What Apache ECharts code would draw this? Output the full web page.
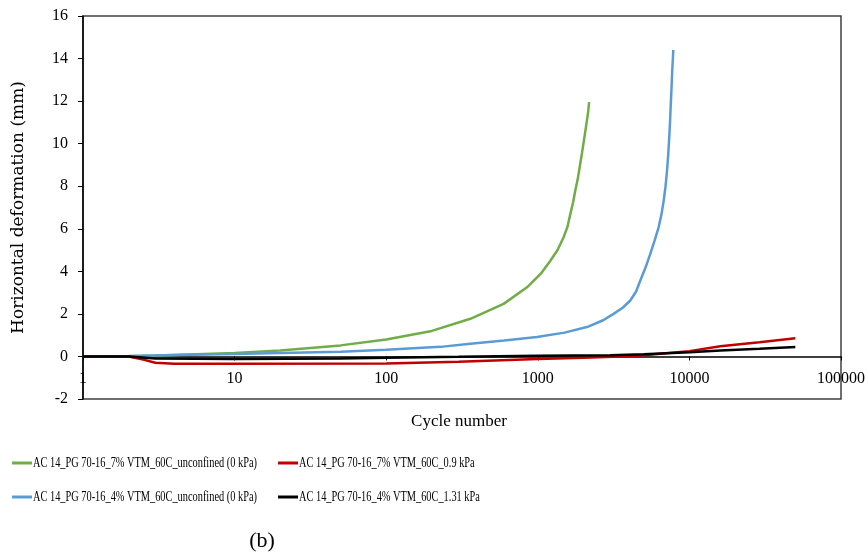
<!DOCTYPE html>
<html>
<head>
<meta charset="utf-8">
<script src="https://cdn.jsdelivr.net/npm/echarts@6/dist/echarts.min.js"></script>
<style>html,body{margin:0;padding:0;background:#fff;}#c{width:868px;height:554px;}</style>
</head>
<body>
<div id="c"></div>
<script>
const seriesNames = [
  'AC 14_PG 70-16_7% VTM_60C_unconfined (0 kPa)',
  'AC 14_PG 70-16_4% VTM_60C_unconfined (0 kPa)',
  'AC 14_PG 70-16_7% VTM_60C_0.9 kPa',
  'AC 14_PG 70-16_4% VTM_60C_1.31 kPa'
];
const seriesColors = ['#70AD47', '#5B9BD5', '#C00000', '#000000'];
const yTicks = [-2, 0, 2, 4, 6, 8, 10, 12, 14, 16];
const xTickLabels = ['1', '10', '100', '1000', '10000', '100000'];

// [cycle number, horizontal deformation (mm)]
const green7Unconf = [[1,0],[1.5,0],[2,0.01],[3,0.04],[5,0.09],[10,0.16],[20,0.28],[50,0.52],[100,0.8],[200,1.2],[359,1.77],[595,2.47],[849,3.25],[1050,3.9],[1210,4.5],[1350,5.0],[1480,5.6],[1570,6.1],[1640,6.7],[1710,7.25],[1767,7.8],[1830,8.3],[1890,8.9],[1960,9.6],[2030,10.3],[2100,11.0],[2150,11.5],[2180,11.95]];
const blue4Unconf = [[1,0],[2,0.02],[3,0.05],[5,0.08],[10,0.12],[20,0.16],[50,0.22],[100,0.31],[228,0.45],[359,0.6],[600,0.75],[988,0.91],[1500,1.12],[2110,1.38],[2700,1.7],[3160,2.0],[3650,2.3],[4075,2.63],[4450,3.05],[4745,3.57],[5150,4.2],[5520,4.82],[5900,5.45],[6265,6.07],[6550,6.7],[6760,7.3],[6960,8.0],[7120,8.73],[7250,9.5],[7350,10.2],[7450,11.0],[7530,11.8],[7620,12.6],[7700,13.4],[7780,14.0],[7830,14.4]];
const red7Conf = [[1,0],[2,0],[2.5,-0.15],[3,-0.3],[4,-0.34],[10,-0.34],[100,-0.33],[300,-0.25],[1000,-0.12],[2000,-0.06],[3500,0],[5000,0.06],[7000,0.15],[10000,0.25],[16000,0.48],[29000,0.67],[50000,0.86]];
const black4Conf = [[1,0],[2,0],[3,-0.1],[10,-0.12],[50,-0.1],[100,-0.06],[300,-0.02],[1000,0.03],[3000,0.06],[5000,0.1],[10000,0.2],[16000,0.28],[29000,0.36],[50000,0.44]];
const seriesData = [green7Unconf, blue4Unconf, red7Conf, black4Conf];

// legend layout: [series index, column x of line start, row y]
const legendItems = [[0, 12, 463], [2, 278, 463], [1, 12, 497], [3, 278, 497]];

const FONT = 'Liberation Serif';
const legendGraphics = legendItems.map(([si, lx, ly]) => ({
  type: 'group', x: lx, y: ly,
  children: [
    {type: 'rect', shape: {x: 0, y: -1.5, width: 20, height: 3}, style: {fill: seriesColors[si]}},
    {type: 'text', x: 21, y: 0, scaleX: 0.69, style: {text: seriesNames[si], fill: '#000', font: '15px "Liberation Serif"', verticalAlign: 'middle'}}
  ]
}));

const chart = echarts.init(document.getElementById('c'), null, {renderer: 'canvas'});
chart.setOption({
  animation: false,
  backgroundColor: '#fff',
  grid: {left: 83, right: 27, top: 16, bottom: 155, show: true, borderColor: '#404040', borderWidth: 1.5, backgroundColor: 'transparent'},
  xAxis: {
    type: 'log', logBase: 10, min: 1, max: 100000,
    axisLine: {onZero: true, lineStyle: {color: '#000', width: 1.5}},
    axisTick: {show: true, inside: false, length: 4, lineStyle: {color: '#000'}},
    axisLabel: {color: '#000', fontFamily: FONT, fontSize: 16, margin: -28,
      formatter: v => { const s = String(Math.round(v)); return xTickLabels.indexOf(s) >= 0 ? s : ''; }},
    splitLine: {show: false}, minorTick: {show: false}
  },
  yAxis: {
    type: 'value', min: yTicks[0], max: yTicks[yTicks.length-1], interval: 2,
    name: 'Horizontal deformation (mm)', nameLocation: 'middle', nameGap: 56,
    nameTextStyle: {color: '#000', fontFamily: 'DejaVu Serif', fontSize: 17},
    axisLine: {show: true, onZero: false, lineStyle: {color: '#000', width: 1.5}},
    axisTick: {show: true, length: 5, lineStyle: {color: '#000'}},
    axisLabel: {color: '#000', fontFamily: FONT, fontSize: 16, margin: 15},
    splitLine: {show: false}
  },
  graphic: [
    {type: 'text', x: 459, y: 422, style: {text: 'Cycle number', fill: '#000', font: '17px "Liberation Serif"', align: 'center', verticalAlign: 'middle'}},
    {type: 'text', x: 262, y: 541, style: {text: '(b)', fill: '#000', font: '22px "Liberation Serif"', align: 'center', verticalAlign: 'middle'}}
  ].concat(legendGraphics),
  series: seriesData.map((d, i) => ({
    name: seriesNames[i], type: 'line', data: d, showSymbol: false, symbol: 'none',
    lineStyle: {color: seriesColors[i], width: 2.5}, itemStyle: {color: seriesColors[i]}
  }))
});
</script>
</body>
</html>
